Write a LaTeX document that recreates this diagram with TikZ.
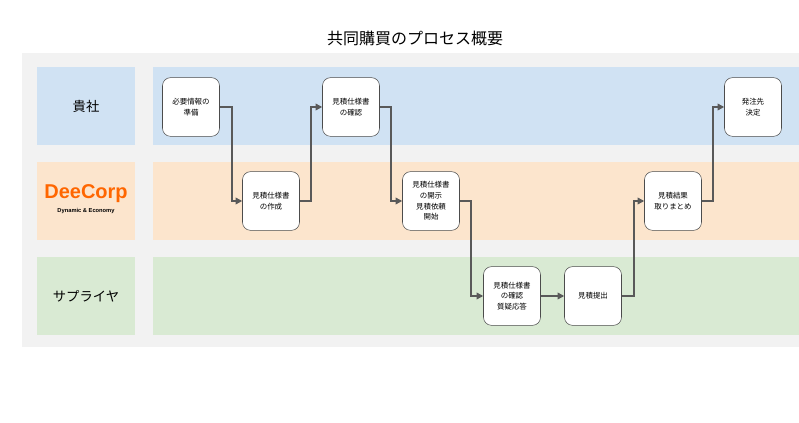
\documentclass[tikz,border=0pt]{standalone}
\usepackage{fontspec}
\setmainfont{Noto Sans CJK JP}
\newfontfamily\logofont{Liberation Sans}
\usetikzlibrary{arrows.meta}
\definecolor{bgg}{HTML}{F2F2F2}
\definecolor{blue1}{HTML}{D0E2F3}
\definecolor{or1}{HTML}{FCE5CD}
\definecolor{gr1}{HTML}{D9EAD3}
\definecolor{dc}{HTML}{FF6600}
\begin{document}
\begin{tikzpicture}[x=0.75pt,y=-0.75pt,
 box/.style={draw=black!70,fill=white,rounded corners=6pt,minimum width=42.75pt,minimum height=44pt,align=center,font=\fontsize{5.6}{8}\selectfont,inner sep=1pt},
 arr/.style={draw=black!65,line width=1.1pt,-{Triangle[length=5pt,width=5pt]}},
 lane/.style={font=\fontsize{10}{12}\selectfont}]
\useasboundingbox (0,0) rectangle (799,423);
\fill[bgg] (22,53) rectangle (799,347);
\fill[blue1] (37,67) rectangle (135,145);
\fill[blue1] (153,67) rectangle (799,145);
\fill[or1] (37,162) rectangle (135,240);
\fill[or1] (153,162) rectangle (799,240);
\fill[gr1] (37,257) rectangle (135,335);
\fill[gr1] (153,257) rectangle (799,335);
\node[font=\fontsize{12}{14}\selectfont] (title) at (415,38) {共同購買のプロセス概要};
\node[lane] (l1) at (86,106) {貴社};
\node[font=\logofont\bfseries\fontsize{15}{16}\selectfont,text=dc] (logo) at (86,194) {DeeCorp};
\node[font=\logofont\bfseries\fontsize{4.3}{5}\selectfont] (logo2) at (86,211) {Dynamic \& Economy};
\node[lane] (l3) at (86,296) {サプライヤ};
\node[box] (A) at (191,107) {必要情報の\\準備};
\node[box] (B) at (271,201) {見積仕様書\\の作成};
\node[box] (C) at (351,107) {見積仕様書\\の確認};
\node[box] (D) at (431,201) {見積仕様書\\の開示\\見積依頼\\開始};
\node[box] (E) at (512,296) {見積仕様書\\の確認\\質疑応答};
\node[box] (F) at (593,296) {見積提出};
\node[box] (G) at (673,201) {見積結果\\取りまとめ};
\node[box] (H) at (753,107) {発注先\\決定};
\draw[arr] (A.east) -- ++(12,0) |- (B.west);
\draw[arr] (B.east) -- ++(11,0) |- (C.west);
\draw[arr] (C.east) -- ++(11,0) |- (D.west);
\draw[arr] (D.east) -- ++(11,0) |- (E.west);
\draw[arr] (E.east) -- (F.west);
\draw[arr] (F.east) -- ++(12,0) |- (G.west);
\draw[arr] (G.east) -- ++(11,0) |- (H.west);
\end{tikzpicture}
\end{document}
